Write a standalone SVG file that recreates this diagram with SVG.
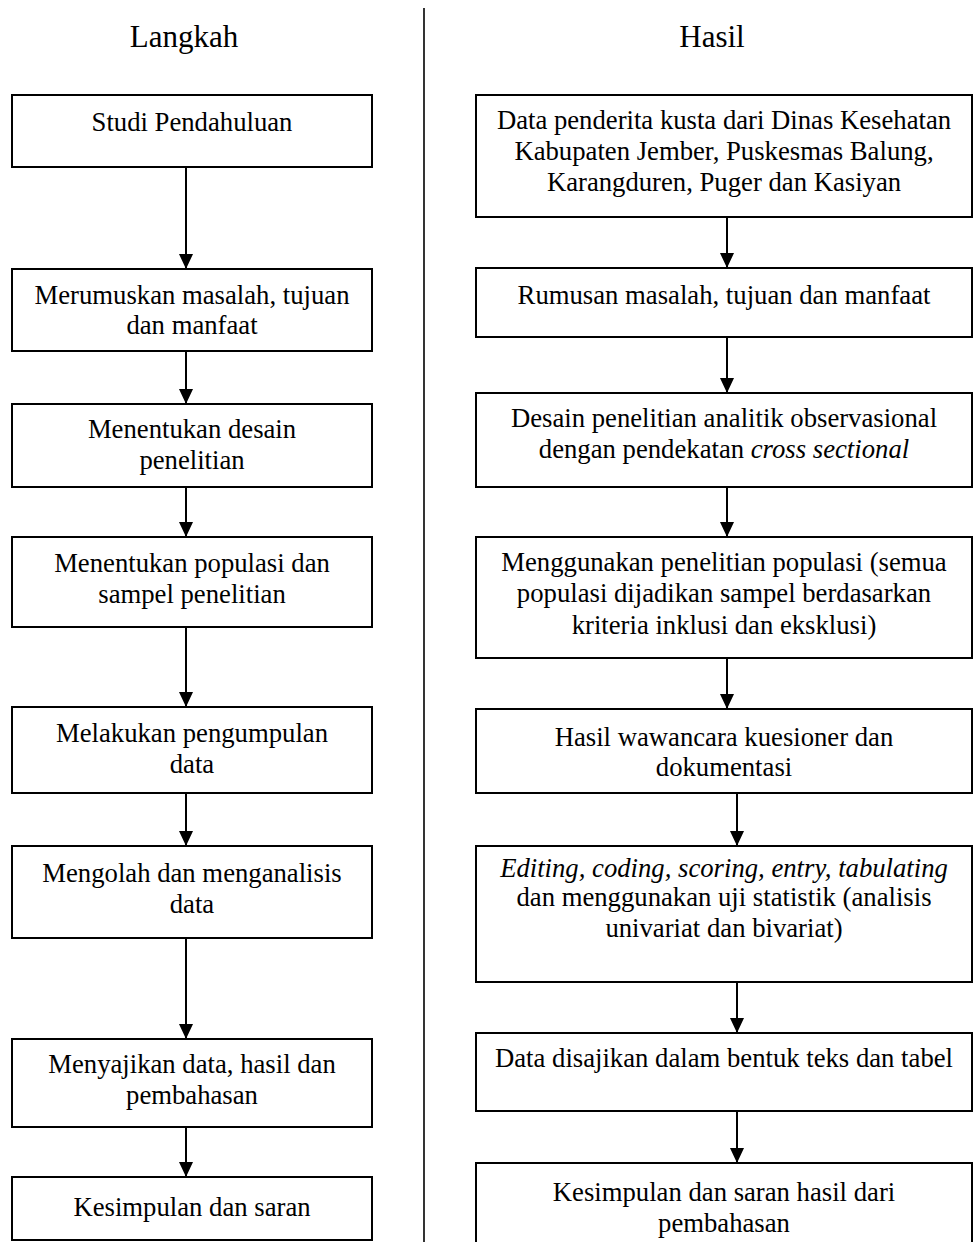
<svg xmlns="http://www.w3.org/2000/svg" width="973" height="1242" viewBox="0 0 973 1242">
<defs>
<style>
.box{fill:none;stroke:#000;stroke-width:2}
.t{font-family:"Liberation Serif","Times New Roman",serif;font-size:26.7px;fill:#000;text-anchor:middle}
.h{font-family:"Liberation Serif","Times New Roman",serif;font-size:31px;fill:#000;text-anchor:middle}
.i{font-style:italic}
.c{stroke:#000;stroke-width:2;fill:none;marker-end:url(#ah)}
</style>
<marker id="ah" viewBox="0 0 15 14" refX="15" refY="7" markerWidth="15" markerHeight="14" markerUnits="userSpaceOnUse" orient="auto">
<path d="M0,0 L15,7 L0,14 z" fill="#000"/>
</marker>
</defs>
<rect x="0" y="0" width="973" height="1242" fill="#fff"/>
<line x1="424" y1="8" x2="424" y2="1242" stroke="#000" stroke-width="1.6"/>
<text class="h" x="184" y="47">Langkah</text>
<text class="h" x="712" y="47">Hasil</text>

<g id="L1"><rect class="box" x="12" y="95" width="360" height="72"/><text class="t" x="192" y="131">Studi Pendahuluan</text></g>
<g id="L2"><rect class="box" x="12" y="269" width="360" height="82"/><text class="t" x="192" y="304">Merumuskan masalah, tujuan</text><text class="t" x="192" y="334">dan manfaat</text></g>
<g id="L3"><rect class="box" x="12" y="404" width="360" height="83"/><text class="t" x="192" y="438">Menentukan desain</text><text class="t" x="192" y="469">penelitian</text></g>
<g id="L4"><rect class="box" x="12" y="537" width="360" height="90"/><text class="t" x="192" y="572">Menentukan populasi dan</text><text class="t" x="192" y="603">sampel penelitian</text></g>
<g id="L5"><rect class="box" x="12" y="707" width="360" height="86"/><text class="t" x="192" y="742">Melakukan pengumpulan</text><text class="t" x="192" y="773">data</text></g>
<g id="L6"><rect class="box" x="12" y="846" width="360" height="92"/><text class="t" x="192" y="882">Mengolah dan menganalisis</text><text class="t" x="192" y="913">data</text></g>
<g id="L7"><rect class="box" x="12" y="1039" width="360" height="88"/><text class="t" x="192" y="1073">Menyajikan data, hasil dan</text><text class="t" x="192" y="1104">pembahasan</text></g>
<g id="L8"><rect class="box" x="12" y="1177" width="360" height="63"/><text class="t" x="192" y="1216">Kesimpulan dan saran</text></g>

<g id="R1"><rect class="box" x="476" y="95" width="496" height="122"/><text class="t" x="724" y="129">Data penderita kusta dari Dinas Kesehatan</text><text class="t" x="724" y="160">Kabupaten Jember, Puskesmas Balung,</text><text class="t" x="724" y="191">Karangduren, Puger dan Kasiyan</text></g>
<g id="R2"><rect class="box" x="476" y="268" width="496" height="69"/><text class="t" x="724" y="304">Rumusan masalah, tujuan dan manfaat</text></g>
<g id="R3"><rect class="box" x="476" y="393" width="496" height="94"/><text class="t" x="724" y="427">Desain penelitian analitik observasional</text><text class="t" x="724" y="458">dengan pendekatan <tspan class="i">cross sectional</tspan></text></g>
<g id="R4"><rect class="box" x="476" y="537" width="496" height="121"/><text class="t" x="724" y="571">Menggunakan penelitian populasi (semua</text><text class="t" x="724" y="602">populasi dijadikan sampel berdasarkan</text><text class="t" x="724" y="634">kriteria inklusi dan eksklusi)</text></g>
<g id="R5"><rect class="box" x="476" y="709" width="496" height="84"/><text class="t" x="724" y="746">Hasil wawancara kuesioner dan</text><text class="t" x="724" y="776">dokumentasi</text></g>
<g id="R6"><rect class="box" x="476" y="846" width="496" height="136"/><text class="t i" x="724" y="877">Editing, coding, scoring, entry, tabulating</text><text class="t" x="724" y="906">dan menggunakan uji statistik (analisis</text><text class="t" x="724" y="937">univariat dan bivariat)</text></g>
<g id="R7"><rect class="box" x="476" y="1033" width="496" height="78"/><text class="t" x="724" y="1067">Data disajikan dalam bentuk teks dan tabel</text></g>
<g id="R8"><rect class="box" x="476" y="1163" width="496" height="100"/><text class="t" x="724" y="1201">Kesimpulan dan saran hasil dari</text><text class="t" x="724" y="1232">pembahasan</text></g>

<g id="connectors">
<line class="c" x1="186" y1="167" x2="186" y2="269"/>
<line class="c" x1="186" y1="351" x2="186" y2="404"/>
<line class="c" x1="186" y1="487" x2="186" y2="537"/>
<line class="c" x1="186" y1="627" x2="186" y2="707"/>
<line class="c" x1="186" y1="793" x2="186" y2="846"/>
<line class="c" x1="186" y1="938" x2="186" y2="1039"/>
<line class="c" x1="186" y1="1127" x2="186" y2="1177"/>
<line class="c" x1="727" y1="217" x2="727" y2="268"/>
<line class="c" x1="727" y1="337" x2="727" y2="393"/>
<line class="c" x1="727" y1="487" x2="727" y2="537"/>
<line class="c" x1="727" y1="658" x2="727" y2="709"/>
<line class="c" x1="737" y1="793" x2="737" y2="846"/>
<line class="c" x1="737" y1="982" x2="737" y2="1033"/>
<line class="c" x1="737" y1="1111" x2="737" y2="1163"/>
</g>
</svg>
